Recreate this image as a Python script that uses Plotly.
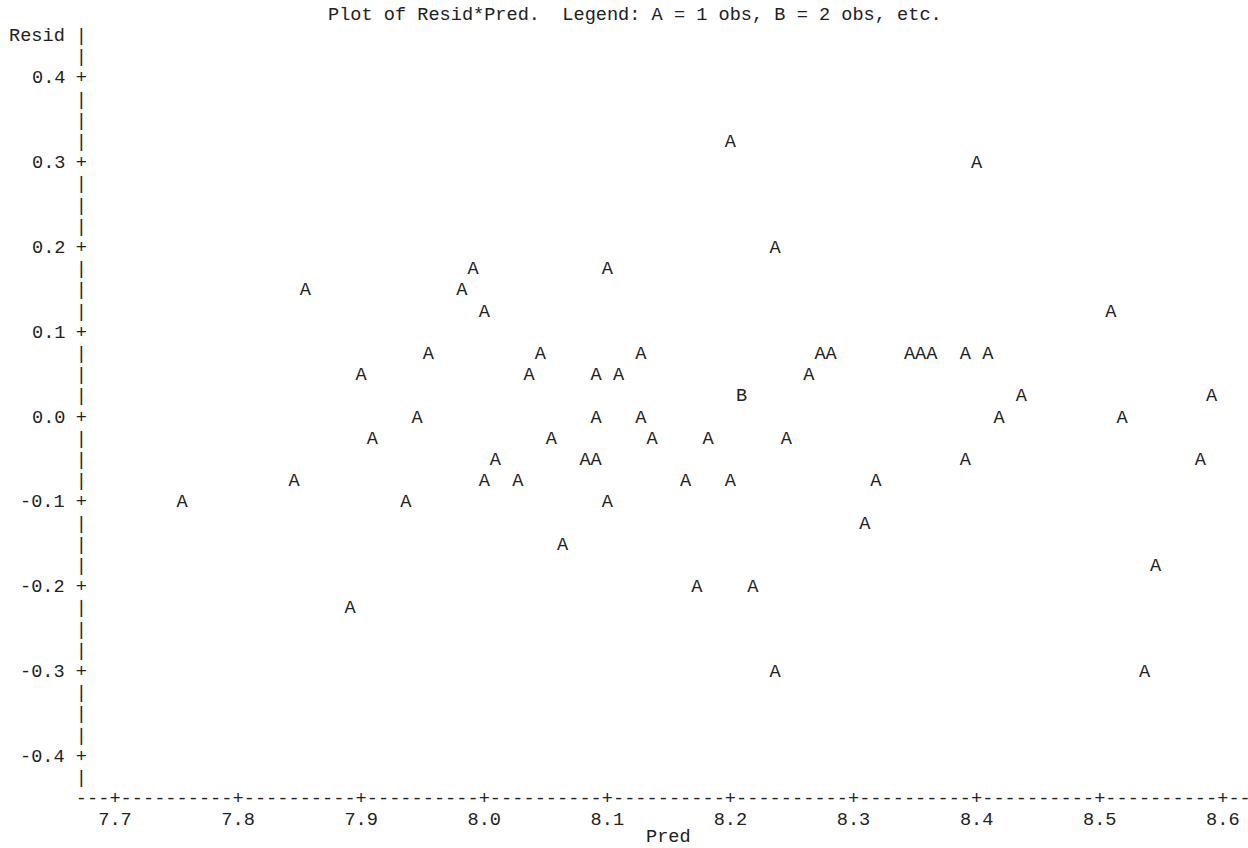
import numpy as np
import pandas as pd
import plotly.graph_objects as go

# ---------------- data ----------------
pred = [
    8.2000,
    8.4000,
    8.2364,
    7.9909, 8.1000,
    7.8545, 7.9818,
    8.0000, 8.5091,
    7.9545, 8.0455, 8.1273, 8.2727, 8.2818, 8.3455, 8.3545, 8.3636, 8.3909, 8.4091,
    7.9000, 8.0364, 8.0909, 8.1091, 8.2636,
    8.2091, 8.2091, 8.4364, 8.5909,
    7.9455, 8.0909, 8.1273, 8.4182, 8.5182,
    7.9091, 8.0545, 8.1364, 8.1818, 8.2455,
    8.0091, 8.0818, 8.0909, 8.3909, 8.5818,
    7.8455, 8.0000, 8.0273, 8.1636, 8.2000, 8.3182,
    7.7545, 7.9364, 8.1000,
    8.3091,
    8.0636,
    8.5455,
    8.1727, 8.2182,
    7.8909,
    8.2364, 8.5364,
]
resid = [
    0.325,
    0.300,
    0.200,
    0.175, 0.175,
    0.150, 0.150,
    0.125, 0.125,
    0.075, 0.075, 0.075, 0.075, 0.075, 0.075, 0.075, 0.075, 0.075, 0.075,
    0.050, 0.050, 0.050, 0.050, 0.050,
    0.025, 0.025, 0.025, 0.025,
    0.000, 0.000, 0.000, 0.000, 0.000,
    -0.025, -0.025, -0.025, -0.025, -0.025,
    -0.050, -0.050, -0.050, -0.050, -0.050,
    -0.075, -0.075, -0.075, -0.075, -0.075, -0.075,
    -0.100, -0.100, -0.100,
    -0.125,
    -0.150,
    -0.175,
    -0.200, -0.200,
    -0.225,
    -0.300, -0.300,
]
x_ticks = [7.7, 7.8, 7.9, 8.0, 8.1, 8.2, 8.3, 8.4, 8.5, 8.6]
y_ticks = [0.4, 0.3, 0.2, 0.1, 0.0, -0.1, -0.2, -0.3, -0.4]
x_ticktext = ["7.7", "7.8", "7.9", "8.0", "8.1", "8.2", "8.3", "8.4", "8.5", "8.6"]
y_ticktext = ["0.4", "0.3", "0.2", "0.1", "0.0", "-0.1", "-0.2", "-0.3", "-0.4"]
title_text = "Plot of Resid*Pred.  Legend: A = 1 obs, B = 2 obs, etc."
x_label = "Pred"
y_label = "Resid"

# ---------------- character grid of the printer plot ----------------
CW = 0.1 / 11          # one print column in Pred units
RH = 0.025             # one print row in Resid units
FONT = "Liberation Mono, Courier New, monospace"
FS = 18.6
COLOR = "#222222"

# bin observations into print cells, letter = count
df = pd.DataFrame({"pred": pred, "resid": resid})
df["col"] = np.round((df["pred"] - x_ticks[0]) / CW).astype(int)
df["row"] = np.round(df["resid"] / RH).astype(int)
cells = df.groupby(["col", "row"]).size().reset_index(name="n")
cells["x"] = x_ticks[0] + cells["col"] * CW
cells["y"] = cells["row"] * RH
cells["label"] = [chr(ord("A") + n - 1) for n in cells["n"]]

axis_x = x_ticks[0] - 3 * CW            # column of the vertical axis
top_row = max(y_ticks) + 2 * RH         # row of "Resid |"
bottom_row = min(y_ticks) - 2 * RH      # row of the dashed axis
last_col = x_ticks[-1] + 2 * CW

fig = go.Figure()
tf = dict(family=FONT, size=FS, color=COLOR)

# data letters
fig.add_trace(go.Scatter(
    x=cells["x"], y=cells["y"], mode="text", text=cells["label"],
    textposition="middle center", textfont=tf,
    hoverinfo="skip", showlegend=False, cliponaxis=False,
))

# vertical axis characters
n_rows = int(round((top_row - (bottom_row + RH)) / RH)) + 1
vy = [top_row - i * RH for i in range(n_rows)]
vchar = ["+" if any(abs(v - t) < 1e-9 for t in y_ticks) else "|" for v in vy]
fig.add_trace(go.Scatter(
    x=[axis_x] * len(vy), y=vy, mode="text", text=vchar,
    textposition="middle center", textfont=tf,
    hoverinfo="skip", showlegend=False, cliponaxis=False,
))

# horizontal axis characters
n_cols = int(round((last_col - axis_x) / CW)) + 1
hx = [axis_x + i * CW for i in range(n_cols)]
hchar = ["+" if any(abs(v - t) < 1e-9 for t in x_ticks) else "-" for v in hx]
fig.add_trace(go.Scatter(
    x=hx, y=[bottom_row] * len(hx), mode="text", text=hchar,
    textposition="middle center", textfont=tf,
    hoverinfo="skip", showlegend=False, cliponaxis=False,
))

# x tick labels
fig.add_trace(go.Scatter(
    x=x_ticks, y=[bottom_row - RH] * len(x_ticks), mode="text", text=x_ticktext,
    textposition="middle center", textfont=tf,
    hoverinfo="skip", showlegend=False, cliponaxis=False,
))

annots = []
label_right = axis_x - 1.5 * CW
for yv, t in zip(y_ticks, y_ticktext):
    annots.append(dict(x=label_right, y=yv, text=t, xanchor="right", yanchor="middle",
                       showarrow=False, borderpad=0, xshift=1))
annots.append(dict(x=label_right, y=top_row, text=y_label, xanchor="right", yanchor="middle",
                   showarrow=False, borderpad=0, xshift=1))
annots.append(dict(x=(x_ticks[0] + x_ticks[-1]) / 2, y=bottom_row - 2 * RH, text=x_label,
                   xanchor="center", yanchor="middle", showarrow=False, borderpad=0, yshift=5))
annots.append(dict(x=x_ticks[0] + 46.5 * CW, y=top_row + RH,
                   text=title_text.replace(" ", "\u00a0"),
                   xanchor="center", yanchor="middle", showarrow=False, borderpad=0))
for a in annots:
    a["xref"] = "x"
    a["yref"] = "y"
    a["font"] = tf

W, H = 1248, 848
px_per_x = 11.19 / CW
x0_px = 115.0
py_per_y = 21.2 / RH
y0_px = 418.0

fig.update_layout(
    width=W, height=H,
    margin=dict(l=0, r=0, t=0, b=0, pad=0),
    paper_bgcolor="white", plot_bgcolor="white",
    xaxis=dict(range=[x_ticks[0] - x0_px / px_per_x, x_ticks[0] + (W - x0_px) / px_per_x],
               visible=False, fixedrange=True),
    yaxis=dict(range=[-(H - y0_px) / py_per_y, y0_px / py_per_y],
               visible=False, fixedrange=True),
    annotations=annots,
    showlegend=False,
)

fig.write_html("out.html", config={"displayModeBar": False},
               post_script="document.body.style.margin='0';document.body.style.overflow='hidden';")
